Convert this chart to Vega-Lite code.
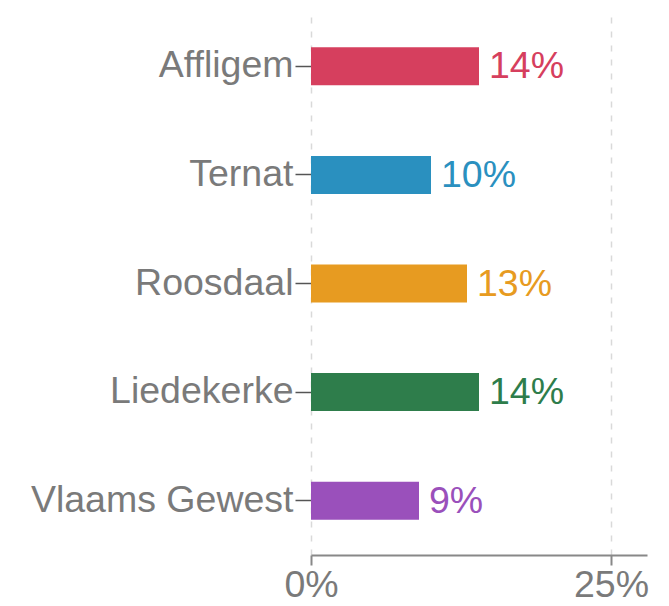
{
  "$schema": "https://vega.github.io/schema/vega-lite/v6.json",
  "width": 336,
  "height": 543,
  "autosize": {"type": "none"},
  "padding": {"left": 311, "top": 12, "right": 22, "bottom": 51},
  "background": "white",
  "config": {
    "view": {"stroke": null},
    "font": "Liberation Sans"
  },
  "data": {
    "values": [
      {"gebied": "Affligem", "aandeel": 0.14},
      {"gebied": "Ternat", "aandeel": 0.10},
      {"gebied": "Roosdaal", "aandeel": 0.13},
      {"gebied": "Liedekerke", "aandeel": 0.14},
      {"gebied": "Vlaams Gewest", "aandeel": 0.09}
    ]
  },
  "encoding": {
    "y": {
      "field": "gebied",
      "type": "nominal",
      "sort": null,
      "title": null,
      "scale": {"paddingInner": 0.65, "paddingOuter": 0.325},
      "axis": {
        "domain": false,
        "ticks": true,
        "tickSize": 16,
        "tickColor": "#555555",
        "tickWidth": 1.5,
        "labelPadding": 2,
        "labelFontSize": 37.5,
        "labelColor": "#7a7a7a",
        "labelFont": "Liberation Sans",
        "labelLimit": 400
      }
    },
    "x": {
      "field": "aandeel",
      "type": "quantitative",
      "title": null,
      "scale": {"domain": [0, 0.28], "nice": false},
      "axis": {
        "values": [0, 0.25],
        "format": ".0%",
        "grid": true,
        "gridColor": "#d9d9d9",
        "gridDash": [6, 8],
        "gridWidth": 1.5,
        "domainColor": "#888888",
        "domainWidth": 2,
        "tickColor": "#888888",
        "tickWidth": 2,
        "tickSize": 10,
        "labelPadding": 1,
        "labelFontSize": 37.5,
        "labelColor": "#7a7a7a",
        "labelFont": "Liberation Sans",
        "labelFlush": false
      }
    },
    "color": {
      "field": "gebied",
      "type": "nominal",
      "legend": null,
      "scale": {
        "domain": ["Affligem", "Ternat", "Roosdaal", "Liedekerke", "Vlaams Gewest"],
        "range": ["#D63F5E", "#2A90BF", "#E79B21", "#2E7D4B", "#9A50BB"]
      }
    }
  },
  "layer": [
    {"mark": {"type": "bar"}},
    {
      "mark": {"type": "text", "align": "left", "baseline": "middle", "dx": 10, "dy": 1, "fontSize": 37.5, "font": "Liberation Sans"},
      "encoding": {
        "text": {"field": "aandeel", "type": "quantitative", "format": ".0%"}
      }
    }
  ]
}
